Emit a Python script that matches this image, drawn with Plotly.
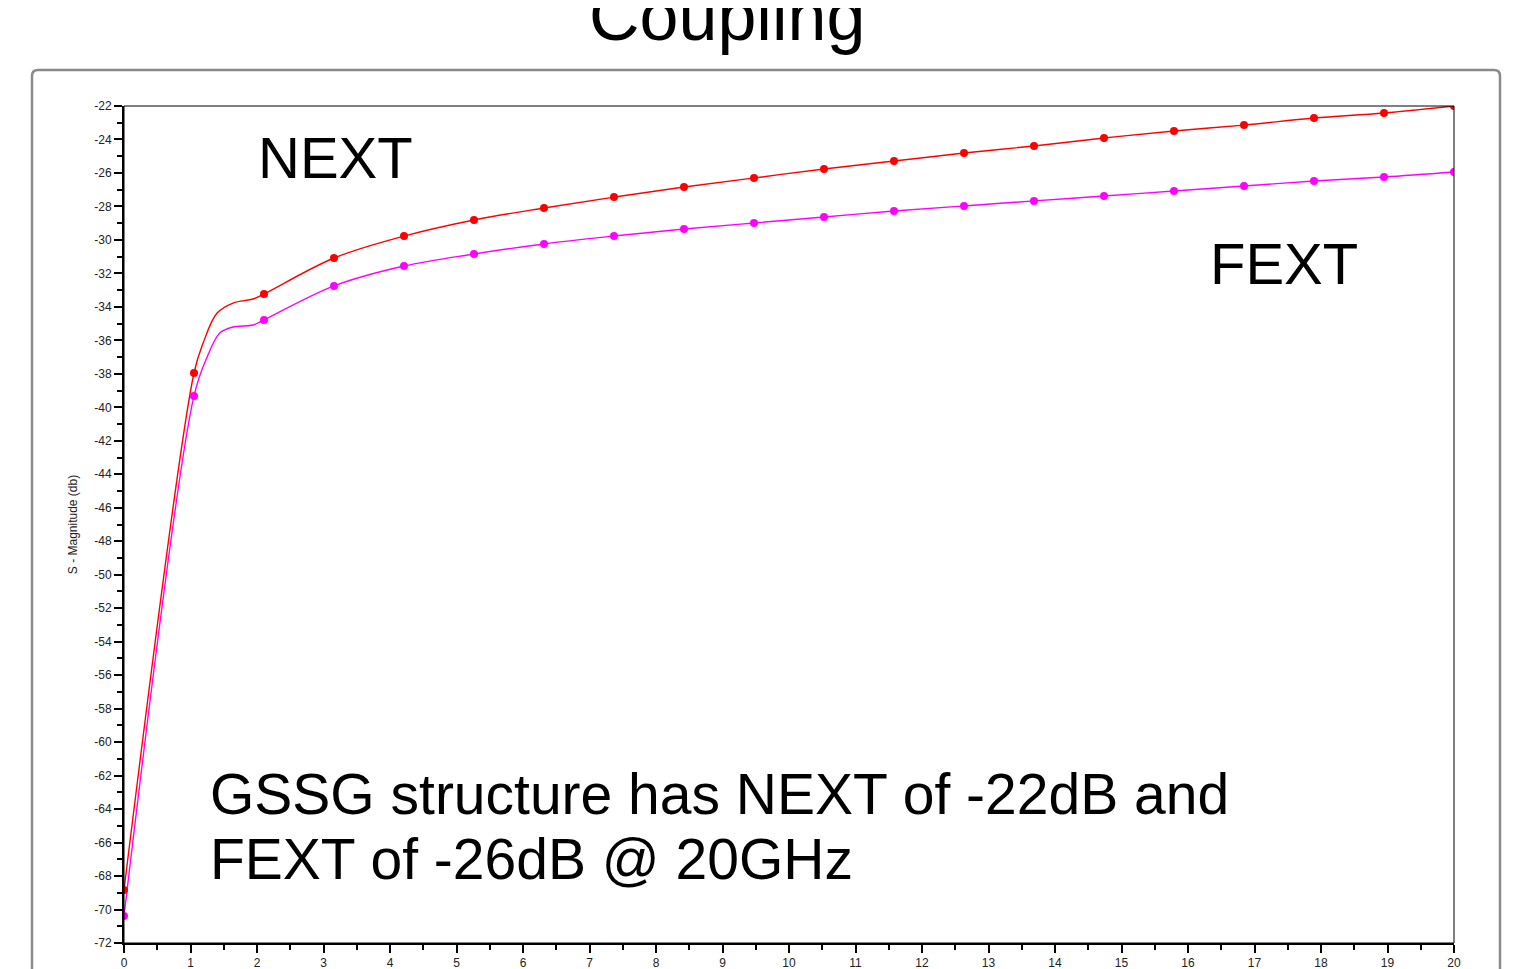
import plotly.graph_objects as go

# ---- data ----
marker_x = [i * 20 / 19 for i in range(20)]
next_markers = [-68.83, -37.95, -33.23, -31.08, -29.77, -28.81, -28.09, -27.44, -26.84, -26.30,
                -25.76, -25.29, -24.81, -24.39, -23.91, -23.49, -23.14, -22.72, -22.42, -22.00]
fext_markers = [-70.39, -39.32, -34.78, -32.75, -31.56, -30.84, -30.24, -29.77, -29.35, -28.99,
                -28.63, -28.27, -27.97, -27.67, -27.38, -27.08, -26.78, -26.48, -26.24, -25.94]

# extra curve points read along the shoulder between the 2nd and 3rd markers
next_shoulder_x = [1.19, 1.40, 1.64, 1.94]
next_shoulder_y = [-36.16, -34.37, -33.77, -33.53]
fext_shoulder_x = [1.25, 1.44, 1.64, 1.94]
fext_shoulder_y = [-37.00, -35.56, -35.20, -35.08]

y_ticks = list(range(-72, -21, 2))
x_ticks = list(range(0, 21))

# ---- layout geometry (reference pixels; page body adds an 8px offset) ----
OFF = 8
W, H = 1521 - OFF, 969 - OFF
L, R, T, B = 124 - OFF, 1454 - OFF, 106 - OFF, 943 - OFF


def px(xp):
    return (xp - OFF - L) / (R - L)


def py(yp):
    return (B - (yp - OFF)) / (B - T)


def merge(mx, my, sx, sy):
    pts = sorted(list(zip(mx, my)) + list(zip(sx, sy)))
    return [p[0] for p in pts], [p[1] for p in pts]


nx, ny = merge(marker_x, next_markers, next_shoulder_x, next_shoulder_y)
fx, fy = merge(marker_x, fext_markers, fext_shoulder_x, fext_shoulder_y)

fig = go.Figure()
for cx, cy, col, name in [(nx, ny, "#ff0000", "NEXT"), (fx, fy, "#ff00ff", "FEXT")]:
    fig.add_trace(go.Scatter(x=cx, y=cy, mode="lines", line=dict(color=col, width=1.4, shape="spline", smoothing=1.0),
                             name=name, showlegend=False, hoverinfo="skip"))
fig.add_trace(go.Scatter(x=marker_x, y=next_markers, mode="markers", marker=dict(color="#ff0000", size=8),
                         showlegend=False, name="NEXT"))
fig.add_trace(go.Scatter(x=marker_x, y=fext_markers, mode="markers", marker=dict(color="#ff00ff", size=8),
                         showlegend=False, name="FEXT"))

tickfont = dict(family="Liberation Sans, Arial", size=12, color="#222")
fig.update_xaxes(range=[0, 20], tickvals=x_ticks, ticktext=[str(v) for v in x_ticks], automargin=False,
                 showgrid=False, zeroline=False, showline=True, linecolor="black", linewidth=2,
                 ticks="outside", ticklen=8, tickwidth=2, tickcolor="black", tickfont=tickfont,
                 minor=dict(dtick=0.5, ticks="outside", ticklen=5, tickwidth=2, tickcolor="black"))
fig.update_yaxes(range=[-72, -22], tickvals=y_ticks, ticktext=[str(v) for v in y_ticks], automargin=False,
                 showgrid=False, zeroline=False, showline=True, linecolor="black", linewidth=2,
                 ticks="outside", ticklen=8, tickwidth=2, tickcolor="black", tickfont=tickfont,
                 minor=dict(dtick=1, ticks="outside", ticklen=5, tickwidth=2, tickcolor="black"),
                 title=dict(text="S - Magnitude (db)", font=dict(family="Liberation Sans, Arial", size=12, color="#222"),
                            standoff=14))

# frame with rounded corners
x0, y0, x1, y1, r = px(32), py(70), px(1500), py(1000), 6
rx, ry = r / (R - L), r / (B - T)
path = (f"M {x0},{y1} L {x0},{y0 - ry} Q {x0},{y0} {x0 + rx},{y0} "
        f"L {x1 - rx},{y0} Q {x1},{y0} {x1},{y0 - ry} L {x1},{y1}")
fig.add_shape(type="path", path=path, xref="paper", yref="paper", line=dict(color="#8a8a8a", width=2.5), layer="below")
fig.add_shape(type="rect", x0=0, y0=0, x1=1, y1=1, xref="paper", yref="paper", line=dict(color="black", width=1))

big = "Liberation Sans, Arial"
anns = [
    ("Coupling", 727, 16, 70, "center"),
    ("NEXT", 256, 157, 58, "left"),
    ("FEXT", 1208, 264, 58, "left"),
    ("GSSG structure has NEXT of -22dB and", 208, 794, 57, "left"),
    ("FEXT of -26dB @ 20GHz", 208, 859, 57, "left"),
]
for text, xp, yp, size, anchor in anns:
    fig.add_annotation(text=text, x=px(xp), y=py(yp), xref="paper", yref="paper", showarrow=False,
                       xanchor=anchor, yanchor="middle", font=dict(family=big, size=size, color="black"))

fig.update_layout(width=W, height=H, margin=dict(l=L, r=W - R, t=T, b=H - B),
                  paper_bgcolor="white", plot_bgcolor="white")
fig.write_html("out.html")
